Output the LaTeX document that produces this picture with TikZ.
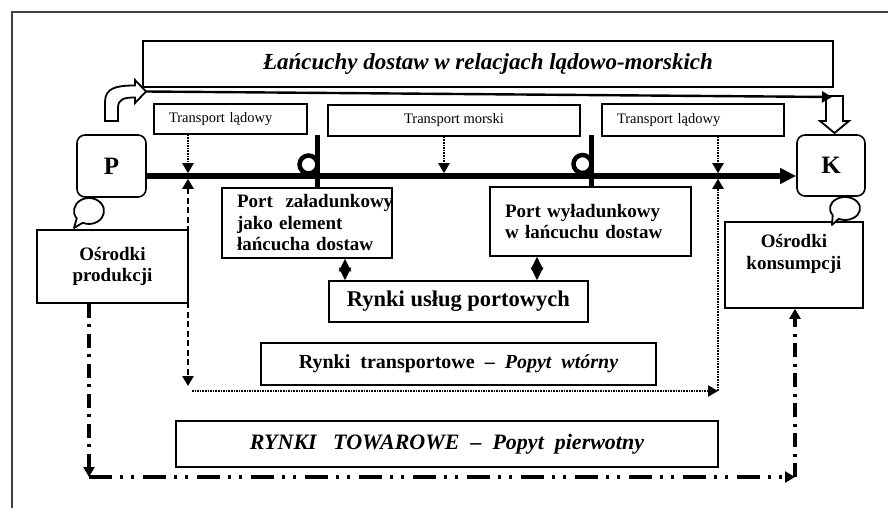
\documentclass[tikz,border=0pt]{standalone}
\usepackage{fontspec}
\setmainfont{Liberation Serif}
\usetikzlibrary{arrows.meta}

\begin{document}
\begin{tikzpicture}[x=1pt,y=-1pt,>={Triangle[length=10pt,width=11pt]},
    box/.style={draw,line width=1.6pt,inner sep=0pt,align=center},
    padded/.style={align=left,inner xsep=15pt},
    end node/.style={draw,line width=1.6pt,rounded corners=8pt,inner sep=0pt,
      font=\fontsize{25}{28}\selectfont\bfseries},
    label text/.style={font=\fontsize{19}{21.5}\selectfont\bfseries},
    transport text/.style={font=\fontsize{14.5}{17}\selectfont},
    market text/.style={font=\fontsize{20}{24}\selectfont\bfseries},
    mainline/.style={line width=5.5pt,-{Triangle[length=16pt,width=15pt]}},
    dotline/.style={line width=2.2pt,dash pattern=on 1.6pt off 1pt,->},
    dashline/.style={line width=2.6pt,dash pattern=on 6pt off 3.5pt},
    towar vert/.style={line width=3.2pt,dash pattern=on 14pt off 6pt on 3pt off 7pt,->},
    towar horiz/.style={line width=3.2pt,
      dash pattern=on 23pt off 8pt on 3pt off 8pt on 3pt off 9pt,->},
    port link/.style={line width=2pt,
      {Triangle[length=12.5pt,width=12pt]}-{Triangle[length=12.5pt,width=12pt]}},
    portbar/.style={line width=5pt},
    portring/.style={line width=4.5pt,fill=white},
    hollow/.style={line width=1.8pt,fill=white,line join=miter},
    bubble/.style={line width=1.8pt,fill=white,line join=round}]

  \useasboundingbox (0,0) rectangle (888,508);
  \draw[line width=1.4pt,black!75] (12,508) -- (12,12) -- (888,12);

  % title and transport boxes
  \node[box,minimum width=690pt,minimum height=46pt,
    font=\fontsize{23}{26}\selectfont\bfseries\itshape] (title) at (488,64)
    {Łańcuchy dostaw w relacjach lądowo-morskich};
  \node[box,transport text,padded,text width=123pt,minimum height=30pt] (ladl) at (230.5,119) {Transport lądowy};
  \node[box,transport text,minimum width=252pt,minimum height=31pt] (morski) at (454,120.5) {Transport morski};
  \node[box,transport text,padded,text width=152pt,minimum height=32pt] (ladr) at (693,120) {Transport lądowy};

  % producer and consumer
  \node[end node,minimum width=69pt,minimum height=62pt] (P) at (111.5,166) {P};
  \node[end node,minimum width=68pt,minimum height=61pt] (K) at (831,165.5) {K};
  \node[box,label text,minimum width=151pt,minimum height=73pt] (prod) at (112.5,266.5) {Ośrodki\\produkcji};
  \node[box,minimum width=138pt,minimum height=86pt] (kons) at (794,265) {};
  \node[label text,align=center] (konstext) at ([yshift=11pt]kons.center) {Ośrodki\\konsumpcji};

  % ports and markets
  \node[box,label text,padded,text width=140pt,minimum height=70pt] (portz) at (307,223)
    {\mbox{Port~~załadunkowy}\\\mbox{jako element}\\\mbox{łańcucha dostaw}};
  \node[box,label text,padded,text width=171pt,minimum height=69pt] (portw) at (590.5,221.5)
    {\mbox{Port wyładunkowy}\\\mbox{w łańcuchu dostaw}};
  \node[box,market text,font=\fontsize{22.5}{26}\selectfont\bfseries,minimum width=259pt,minimum height=41pt]
    (uslugi) at (458.5,301.5) {Rynki usług portowych};
  \node[box,market text,minimum width=395pt,minimum height=42pt] (transp) at (458.5,364)
    {Rynki~~transportowe~~–~~\textit{Popyt~~wtórny}};
  \node[box,market text,font=\fontsize{22}{26}\selectfont\bfseries\itshape,minimum width=542pt,minimum height=46pt]
    (towar) at (447,444) {RYNKI~~~TOWAROWE~~–~~Popyt~~pierwotny};

  % bent arrow and top line
  \draw[hollow] (105,121) -- (105,102) .. controls (105,88) and (116,85.5) .. (135,85.5)
    -- (135,80) -- (146,91.5) -- (135,103) -- (135,97.5)
    .. controls (124,97.5) and (118,99) .. (118,108) -- (118,121) -- cycle;
  \draw[hollow] (826,96) -- (843,96) -- (843,121) -- (849,121) -- (834.5,133)
    -- (820,121) -- (826,121) -- cycle;
  \coordinate (hooktip) at (146,91.5);
  \coordinate (droptop) at (832,97);
  \draw[line width=2.4pt,->] (hooktip) -- (droptop);

  % speech bubbles
  \draw[bubble] (89,211) ++(145:15 and 13) arc[start angle=145,end angle=475,x radius=15,y radius=13]
    -- (74,228) -- cycle;
  \draw[bubble] (845,208.5) ++(145:15 and 11.5) arc[start angle=145,end angle=475,x radius=15,y radius=11.5]
    -- (832,225) -- cycle;

  % main flow line
  \coordinate (xl) at (188,176);
  \coordinate (xm) at (444,176);
  \coordinate (xr) at (718,176);
  \draw[mainline] (P.east |- xl) -- (K.west |- xl);

  % port symbols
  \coordinate (pzbar) at (317,135);
  \coordinate (pwbar) at (591,135);
  \draw[portring] (308.5,164.5) circle[radius=9];
  \draw[portring] (582.5,164) circle[radius=9];
  \draw[portbar] (pzbar) -- (portz.north -| pzbar);
  \draw[portbar] (pwbar) -- (portw.north -| pwbar);

  % transport connectors
  \draw[dotline,shorten >=2.8pt] (ladl.south -| xl) -- (xl);
  \draw[dotline,shorten >=2.8pt] (morski.south -| xm) -- (xm);
  \draw[dotline,shorten >=2.8pt] (ladr.south -| xr) -- (xr);

  \coordinate (bl) at (188,386);
  \coordinate (br) at (718,391);
  \draw[dashline,<->,shorten <=2.8pt] (xl) -- (bl);
  \draw[dotline] ([xshift=4pt,yshift=-5pt]bl) -- (br);
  \draw[dotline,shorten >=2.8pt] (br) -- (xr);

  % port services
  \draw[port link] ([xshift=38pt]portz.south) -- ([xshift=38pt]portz.south |- uslugi.north);
  \draw[port link] ([xshift=-53.5pt]portw.south) -- ([xshift=-53.5pt]portw.south |- uslugi.north);

  % goods markets
  \coordinate (dl) at (89,477);
  \coordinate (dr) at (795,477);
  \draw[towar vert] (prod.south -| dl) -- (dl);
  \draw[towar horiz] (dl) -- (dr);
  \draw[towar vert] (dr) -- (kons.south -| dr);

\end{tikzpicture}
\end{document}
